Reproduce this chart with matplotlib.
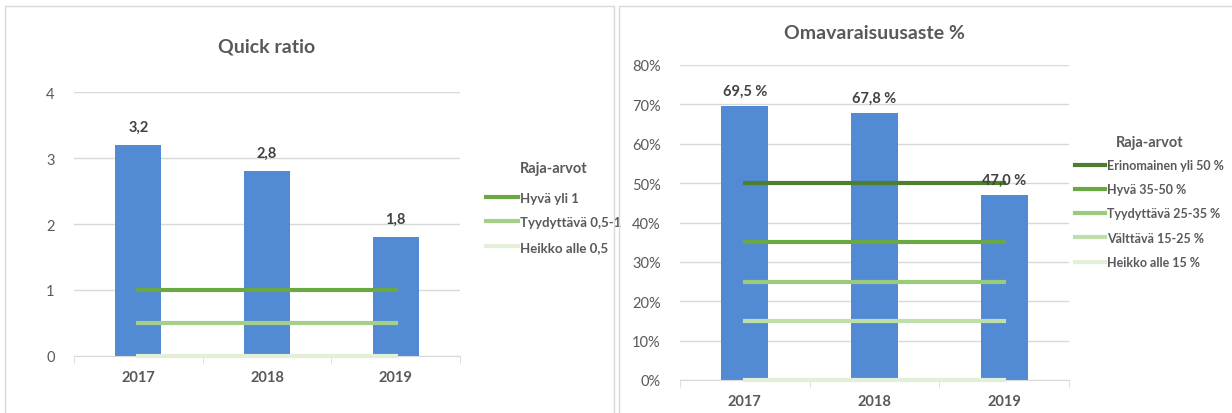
import matplotlib
matplotlib.use("Agg")
from matplotlib import pyplot as plt
from matplotlib.patches import Rectangle

plt.rcParams['font.family'] = ['Lato', 'DejaVu Sans']

years = ["2017", "2018", "2019"]

# Quick ratio
quick = [3.2, 2.8, 1.8]
quick_labels = ["3,2", "2,8", "1,8"]
quick_limits = [1.0, 0.5, 0.0]
quick_limit_names = ["Hyvä yli 1", "Tyydyttävä 0,5-1", "Heikko alle 0,5"]
quick_limit_colors = ["#6AA843", "#A6D08A", "#E2F0D9"]

# Omavaraisuusaste %
equity = [69.5, 67.8, 47.0]
equity_labels = ["69,5 %", "67,8 %", "47,0 %"]
equity_limits = [50, 35, 25, 15, 0]
equity_limit_names = ["Erinomainen yli 50 %", "Hyvä 35-50 %", "Tyydyttävä 25-35 %",
                      "Välttävä 15-25 %", "Heikko alle 15 %"]
equity_limit_colors = ["#4E7F2E", "#6AA843", "#9ACB7A", "#BFDFAA", "#E2F0D9"]

BAR = "#528BD4"
GRID = "#D9D9D9"
TXT = "#595959"

W, H = 1232, 414
fig = plt.figure(figsize=(W / 100, H / 100), dpi=100)

# panel borders
for x0, x1 in [(5, 614), (619, 1240)]:
    fig.patches.append(Rectangle((x0 / W, -0.05), (x1 - x0) / W, 1.05 - 7 / H,
                                 transform=fig.transFigure, fill=False,
                                 edgecolor=GRID, lw=1))


def setup(ax, ymax, step):
    x = range(len(years))
    ax.set_xlim(-0.5, 2.5)
    ax.set_ylim(0, ymax)
    ax.set_yticks([i * step for i in range(int(round(ymax / step)) + 1)])
    ax.set_xticks(list(x))
    ax.set_xticklabels(years, fontsize=10.5, fontweight="bold", color=TXT)
    ax.set_xticks([-0.5, 0.5, 1.5, 2.5], minor=True)
    ax.tick_params(axis="x", which="major", length=0, pad=10)
    ax.tick_params(axis="x", which="minor", length=5, color=GRID)
    ax.tick_params(axis="y", length=0, labelsize=10.5, labelcolor=TXT, pad=14)
    for s in ["top", "right", "left"]:
        ax.spines[s].set_visible(False)
    ax.spines["bottom"].set_color(GRID)
    ax.grid(axis="y", color=GRID, lw=1)
    ax.set_axisbelow(True)


def style_legend(leg, sep):
    leg.get_title().set_fontsize(10.5)
    leg.get_title().set_color(TXT)
    leg.get_title().set_fontweight("bold")
    leg._legend_box.sep = sep
    for t in leg.get_texts():
        t.set_color(TXT)
        t.set_fontweight("bold")


xs = list(range(len(years)))

# left chart
ax1 = fig.add_axes([74 / W, 1 - 357 / H, 386 / W, 264 / H])
setup(ax1, 4, 1)
ax1.bar(xs, quick, width=0.36, color=BAR, zorder=2)
for xi, v, lab in zip(xs, quick, quick_labels):
    ax1.annotate(lab, (xi, v), xytext=(0, 8), textcoords="offset points",
                 ha="center", va="bottom", fontsize=10.5, fontweight="bold", color="#404040")
for val, name, col in zip(quick_limits, quick_limit_names, quick_limit_colors):
    ax1.plot(xs, [val] * len(xs), color=col, lw=3, label=name, zorder=3, clip_on=False)
ax1.set_title("Quick ratio", fontsize=14, fontweight="bold", color=TXT, y=1.12)
leg1 = ax1.legend(loc="upper left", bbox_to_anchor=(474 / W, 1 - 150 / H),
                  bbox_transform=fig.transFigure, frameon=False, title="Raja-arvot",
                  fontsize=9.5, handlelength=2.4, handletextpad=0.15, labelspacing=0.95)
style_legend(leg1, 12)

# right chart
ax2 = fig.add_axes([680 / W, 1 - 381 / H, 389 / W, 315 / H])
setup(ax2, 80, 10)
ax2.set_yticklabels([f"{v}%" for v in range(0, 81, 10)])
ax2.bar(xs, equity, width=0.36, color=BAR, zorder=2)
for xi, v, lab in zip(xs, equity, equity_labels):
    ax2.annotate(lab, (xi, v), xytext=(0, 6), textcoords="offset points",
                 ha="center", va="bottom", fontsize=10.5, fontweight="bold",
                 color="#404040", zorder=4)
for val, name, col in zip(equity_limits, equity_limit_names, equity_limit_colors):
    ax2.plot(xs, [val] * len(xs), color=col, lw=3, label=name, zorder=3, clip_on=False)
ax2.set_title("Omavaraisuusaste %", fontsize=14, fontweight="bold", color=TXT, y=1.06)
leg2 = ax2.legend(loc="upper left", bbox_to_anchor=(1064 / W, 1 - 125 / H),
                  bbox_transform=fig.transFigure, frameon=False, title="Raja-arvot",
                  fontsize=9, handlelength=2.4, handletextpad=0.15, labelspacing=0.98)
style_legend(leg2, 7)

fig.savefig("out.png", dpi=100)
